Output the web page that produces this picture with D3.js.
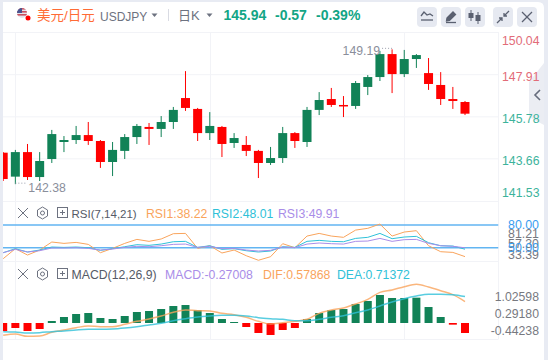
<!DOCTYPE html>
<html>
<head>
<meta charset="utf-8">
<script src="https://cdn.jsdelivr.net/npm/d3@7"></script>
<style>
  html, body { margin: 0; padding: 0; background: #fff; }
  svg { display: block; font-family: "Liberation Sans", "Noto Sans CJK SC", sans-serif; }
  .domain { display: none; }
</style>
</head>
<body>
<div id="chart"></div>
<script>
// daily candles
const opens  = [143.97,142.76,144.00,142.74,143.65,144.51,144.61,144.86,144.56,143.50,144.06,144.76,145.27,145.17,145.52,146.73,146.18,144.96,145.27,144.46,144.36,144.06,143.45,143.70,144.96,144.51,146.13,146.68,146.38,146.33,147.29,147.79,148.95,147.94,148.70,147.99,147.39,146.68,146.53];
const highs  = [144.00,144.11,144.41,144.00,145.12,144.81,145.32,145.52,144.61,144.51,144.91,145.42,145.47,145.82,146.28,148.09,146.23,146.02,145.32,144.96,144.81,144.11,144.26,145.27,145.01,146.28,147.03,147.24,146.83,147.59,147.89,149.11,149.19,149.16,148.95,148.75,148.04,147.29,146.58];
const lows   = [142.54,142.38,142.59,142.54,143.45,144.00,144.41,144.36,143.20,142.79,143.65,144.41,144.36,144.76,145.17,146.08,144.56,144.61,143.75,144.21,143.80,142.69,143.35,143.45,144.21,144.26,145.87,146.28,145.77,146.18,146.88,147.59,146.98,147.79,148.25,147.14,146.38,146.18,145.87];
const closes = [142.64,144.00,142.74,143.55,144.91,144.61,144.86,144.56,143.50,144.11,144.76,145.32,145.17,145.52,146.13,146.23,144.96,145.32,144.41,144.71,144.06,143.45,143.70,144.96,144.56,146.13,146.63,146.38,146.33,147.49,147.79,148.95,147.94,148.70,148.90,147.44,146.68,146.58,145.94];

const rsi1 = [35.5,48.7,40.3,46.9,57.5,55.7,57.0,54.4,43.4,49.1,55.7,61.0,58.4,61.5,68.5,68.9,49.1,52.6,43.0,46.9,39.4,33.39,38.1,55.3,50.0,65.4,68.9,65.4,63.7,73.3,75.6,81.21,65.4,70.7,72.5,52.6,44.7,43.8,38.22];
const rsi2 = [43.4,48.7,44.3,46.9,50.9,50.4,50.9,50.0,46.5,48.7,51.3,54.0,53.1,54.8,57.9,58.4,50.4,52.6,47.8,48.7,46.0,44.3,45.6,51.3,50.4,58.4,59.7,58.4,57.9,62.3,63.7,68.9,61.9,64.1,65.0,56.6,52.6,52.2,48.01];
const rsi3 = [43.4,47.8,44.3,46.0,49.6,49.6,50.0,49.1,46.9,48.2,50.4,51.8,51.3,52.6,54.4,54.8,50.4,51.8,48.7,49.1,46.9,45.6,46.5,50.9,50.0,54.8,56.2,55.3,54.8,58.4,58.8,62.3,58.4,60.6,61.0,55.7,52.6,51.8,49.91];

const macdHist = [-0.216,-0.135,-0.216,-0.162,0.054,0.162,0.243,0.270,0.135,0.108,0.189,0.297,0.324,0.378,0.459,0.486,0.351,0.270,0.108,0.027,-0.108,-0.270,-0.324,-0.189,-0.135,0.108,0.270,0.351,0.378,0.514,0.595,0.757,0.676,0.676,0.685,0.432,0.162,-0.045,-0.27008];
const dif = [-0.333,-0.297,-0.360,-0.351,-0.252,-0.189,-0.126,-0.081,-0.099,-0.099,-0.036,0.045,0.108,0.189,0.288,0.351,0.333,0.324,0.261,0.225,0.153,0.045,-0.027,0.009,0.045,0.099,0.261,0.351,0.405,0.514,0.640,0.829,0.892,0.982,1.045,0.973,0.874,0.766,0.57868];
const dea = [-0.234,-0.243,-0.270,-0.261,-0.234,-0.216,-0.189,-0.171,-0.171,-0.162,-0.135,-0.099,-0.054,-0.009,0.063,0.117,0.162,0.189,0.207,0.207,0.189,0.144,0.117,0.099,0.063,0.063,0.099,0.153,0.198,0.279,0.351,0.459,0.568,0.658,0.730,0.775,0.775,0.766,0.71372];

const priceTicks = [150.04, 147.91, 145.78, 143.66, 141.53];
const rsiLevels  = [80, 50];
const rsiTexts   = ['81.21', '57.30', '33.39'];
const macdTicks  = ['1.02598', '0.29180', '-0.44238'];
const dateIndex  = [1, 17, 33];
const dateLabels = ['2025-06', '2025-06', '2025-07'];

const W = 548, H = 360;
const GREEN = '#118257', RED = '#ff0000', GRID = '#f2f3f7';
const ORANGE = '#f9a45c', CYAN = '#2fc1d8', PURPLE = '#a98de8', LEVEL = '#62b5f2';
const LEFT = 3, AXIS_X = 498.5, BOTTOM = 339;

const svg = d3.select('#chart').append('svg').attr('width', W).attr('height', H);
svg.append('rect').attr('width', W).attr('height', H).attr('fill', '#e8ebf3');
svg.append('path').attr('fill', '#fff')
  .attr('d', `M${LEFT},2H538Q544,2 544,8V${H}H${LEFT}Z`);

svg.append('clipPath').attr('id', 'plot')
  .append('rect').attr('x', LEFT).attr('y', 32).attr('width', AXIS_X - LEFT).attr('height', BOTTOM - 32);

const x = d3.scaleLinear().domain([0, closes.length - 1]).range([3.2, 465]);
const yPrice = d3.scaleLinear().domain([141.53, 150.04]).range([201, 32.5]);
const yRsi = d3.scaleLinear().domain([50, 80]).range([247.7, 225]);
const yMacd = d3.scaleLinear().domain([0, 1]).range([323, 286]);
// the macd labels sit on their own spacing, not on the bar scale
const yMacdLabel = d3.scalePoint().domain(macdTicks).range([297, 331]);

// grid
const grid = svg.append('g').attr('stroke', GRID).attr('stroke-width', 1);
dateIndex.forEach(i => {
  grid.append('line').attr('x1', Math.round(x(i)) + .5).attr('x2', Math.round(x(i)) + .5).attr('y1', 32).attr('y2', BOTTOM);
});
priceTicks.slice(1, -1).forEach(v => {
  grid.append('line').attr('x1', LEFT).attr('x2', AXIS_X).attr('y1', yPrice(v)).attr('y2', yPrice(v));
});
[32.5, 201.5, 261.5, BOTTOM + .5].forEach(y => {
  grid.append('line').attr('x1', LEFT).attr('x2', AXIS_X).attr('y1', y).attr('y2', y);
});
grid.append('line').attr('x1', AXIS_X).attr('x2', AXIS_X).attr('y1', 32).attr('y2', BOTTOM);

const plot = svg.append('g').attr('clip-path', 'url(#plot)');

// candles
const isUp = i => closes[i] >= opens[i];
const candles = plot.append('g').selectAll('g').data(closes.map((c, i) => i)).join('g')
  .attr('fill', i => isUp(i) ? GREEN : RED)
  .attr('stroke', i => isUp(i) ? GREEN : RED);
candles.append('line')
  .attr('x1', i => x(i)).attr('x2', i => x(i))
  .attr('y1', i => yPrice(highs[i])).attr('y2', i => yPrice(lows[i]))
  .attr('stroke-width', 1);
candles.append('rect')
  .attr('x', i => x(i) - 4.5).attr('width', 9)
  .attr('y', i => yPrice(Math.max(opens[i], closes[i])))
  .attr('height', i => Math.max(1.5, Math.abs(yPrice(opens[i]) - yPrice(closes[i]))))
  .attr('stroke', 'none');

// RSI
rsiLevels.forEach(v => {
  plot.append('line').attr('x1', LEFT).attr('x2', AXIS_X).attr('y1', yRsi(v)).attr('y2', yRsi(v))
    .attr('stroke', LEVEL).attr('stroke-width', 1.4);
});
const rsiLine = d3.line().x((d, i) => x(i)).y(d => yRsi(d));
[[rsi1, ORANGE], [rsi2, CYAN], [rsi3, PURPLE]].forEach(([vals, col]) => {
  plot.append('path').attr('d', rsiLine(vals)).attr('fill', 'none').attr('stroke', col).attr('stroke-width', 1);
});

// MACD
plot.append('g').selectAll('rect').data(macdHist).join('rect')
  .attr('x', (d, i) => x(i) - 4).attr('width', 8)
  .attr('y', d => yMacd(Math.max(d, 0)))
  .attr('height', d => Math.max(1, Math.abs(yMacd(d) - yMacd(0))))
  .attr('fill', d => d >= 0 ? GREEN : RED);
const macdLine = d3.line().x((d, i) => x(i)).y(d => yMacd(d)).curve(d3.curveMonotoneX);
[[dif, ORANGE], [dea, CYAN]].forEach(([vals, col]) => {
  plot.append('path').attr('d', macdLine(vals)).attr('fill', 'none').attr('stroke', col)
    .attr('stroke-width', 1.5).attr('stroke-opacity', .8);
});

// collapse tab, sits under the price labels
svg.append('path').attr('fill', '#ebedf3').attr('d', 'M544,63L529,82V117L544,125Z');
svg.append('path').attr('fill', 'none').attr('stroke', '#666c7c').attr('stroke-width', 1.6)
  .attr('d', 'M540,90L535,95L540,100');

// price axis, the outer labels are pulled inside the panel
const priceDy = [11.5, 5.4, 5.2, 6, -4.3];
const priceAxis = d3.axisRight(yPrice).tickValues(priceTicks).tickSize(0).tickPadding(0).tickFormat(d3.format('.2f'));
svg.append('g').attr('transform', 'translate(502,0)').call(priceAxis)
  .selectAll('text')
  .attr('font-size', 12.25)
  .attr('font-family', 'inherit')
  .attr('fill', d => d > 146 ? '#e26c78' : '#3cb39b')
  .attr('dy', (d, i) => priceDy[i]);

// rsi axis labels
const rsiTextY = d3.scalePoint().domain(rsiTexts).range([238, 258.5]);
rsiTexts.forEach(t => {
  svg.append('text').attr('x', 508).attr('y', rsiTextY(t)).attr('font-size', 12.4).attr('fill', '#77797f').text(t);
});
rsiLevels.forEach(v => {
  svg.append('text').attr('x', 508).attr('y', yRsi(v) + 3.9).attr('font-size', 12.4).attr('fill', '#3a9df0')
    .text(v.toFixed(2));
});

// macd axis labels
macdTicks.forEach(t => {
  svg.append('text').attr('x', 539).attr('y', yMacdLabel(t) + 4).attr('text-anchor', 'end')
    .attr('font-size', 12.25).attr('fill', '#77797f').text(t);
});

// date axis, clipped at the left edge
svg.append('clipPath').attr('id', 'dates')
  .append('rect').attr('x', LEFT).attr('y', BOTTOM).attr('width', AXIS_X - LEFT).attr('height', H - BOTTOM);
const dateAxis = d3.axisBottom(x).tickValues(dateIndex).tickSize(0).tickPadding(4.5)
  .tickFormat((d, i) => dateLabels[i]);
svg.append('g').attr('transform', `translate(0,${BOTTOM})`).attr('clip-path', 'url(#dates)').call(dateAxis)
  .selectAll('text').attr('font-size', 11.8).attr('font-family', 'inherit').attr('fill', '#a9acb8');

// high / low notes
const note = (idx, val, side, dots, dy, label) => {
  const px = x(idx), py = yPrice(val);
  const end = side === 'left' ? px - dots : px + dots;
  svg.append('line').attr('x1', px).attr('x2', end).attr('y1', py - 1).attr('y2', py - 1)
    .attr('stroke', '#9a9eab').attr('stroke-dasharray', '1 2');
  svg.append('text').attr('x', side === 'left' ? end : end + 1).attr('y', py + dy)
    .attr('text-anchor', side === 'left' ? 'end' : 'start')
    .attr('font-size', 12.25).attr('fill', '#8a8e9b').text(label);
};
note(32, 149.19, 'left', 12, 5.7, '149.19');
note(1, 142.38, 'right', 12, 7.5, '142.38');

// header
const header = svg.append('g');
const label = (px, py, txt, size, col, weight) => header.append('text').attr('x', px).attr('y', py)
  .attr('font-size', size).attr('fill', col).attr('font-weight', weight || 'normal').text(txt);
svg.append('clipPath').attr('id', 'flag').append('circle').attr('cx', 22).attr('cy', 13).attr('r', 5);
const flag = header.append('g').attr('clip-path', 'url(#flag)');
flag.append('rect').attr('x', 17).attr('y', 8).attr('width', 10).attr('height', 10).attr('fill', '#e3e4ec');
[8, 11, 14].forEach(sy => {
  flag.append('rect').attr('x', 17).attr('y', sy).attr('width', 10).attr('height', 1.6).attr('fill', '#c9505f');
});
flag.append('rect').attr('x', 17).attr('y', 8).attr('width', 5).attr('height', 5).attr('fill', '#4a5590');
header.append('circle').attr('cx', 28).attr('cy', 18).attr('r', 2.5).attr('fill', '#f00');
label(37, 19.5, '美元/日元', 13.5, '#ff6b35');
label(100, 20.5, 'USDJPY', 12, '#6d7280');
label(178, 19.5, '日K', 13, '#6d7280');
header.append('line').attr('x1', 168.5).attr('x2', 168.5).attr('y1', 9).attr('y2', 21).attr('stroke', '#d9dbe3');
[[154.5, 15], [209.5, 15]].forEach(([cx, cy]) => {
  header.append('path').attr('fill', '#6d7280').attr('d', `M${cx - 3},${cy - 1.5}H${cx + 3}L${cx},${cy + 2}Z`);
});
label(223.5, 19.5, '145.94', 14, '#12a585', 'bold');
label(275, 19.5, '-0.57', 14, '#12a585', 'bold');
label(316, 19.5, '-0.39%', 14, '#12a585', 'bold');

// toolbar buttons
const ICON = '#5a6070';
const buttons = [
  ['M4,9L7,5L10,8L13,7L16,9', 'M4,13H16'],
  ['M6,11L12,5L14.5,7.5L8.5,13.5L5.5,14Z', 'M5,15.5H15'],
  null,
  ['M4,16L9,11M6,11H9V14', 'M16,4L11,9M14,9H11V6'],
  ['M5,5L15,15', 'M15,5L5,15']
];
[417, 441, 465, 493, 517].forEach((bx, i) => {
  const b = header.append('g').attr('transform', `translate(${bx},7)`);
  b.append('rect').attr('width', 20).attr('height', 20).attr('rx', 4).attr('fill', '#e6e9f1');
  if (buttons[i]) {
    buttons[i].forEach(d => b.append('path').attr('d', d).attr('fill', i === 1 ? ICON : 'none').attr('stroke', ICON).attr('stroke-width', 1.3));
  } else {
    [[6, 3, 11], [13, 5, 14]].forEach(([cx, a, z]) => {
      b.append('line').attr('x1', cx).attr('x2', cx).attr('y1', a).attr('y2', z + 3).attr('stroke', ICON);
      b.append('rect').attr('x', cx - 2.5).attr('y', a + 3).attr('width', 5).attr('height', z - a - 3).attr('fill', ICON);
    });
  }
});

// indicator legends
const legendRow = (py, name, nameSize, items) => {
  const g = svg.append('g');
  g.append('path').attr('d', `M18,${py - 5}L28,${py + 5}M28,${py - 5}L18,${py + 5}`).attr('stroke', '#6d7280').attr('fill', 'none');
  g.append('path').attr('d', `M42.5,${py - 6}L47.5,${py - 3}V${py + 3}L42.5,${py + 6}L37.5,${py + 3}V${py - 3}Z`)
    .attr('stroke', '#6d7280').attr('fill', 'none');
  g.append('circle').attr('cx', 42.5).attr('cy', py).attr('r', 2).attr('stroke', '#6d7280').attr('fill', 'none');
  g.append('rect').attr('x', 57.5).attr('y', py - 5.5).attr('width', 10).attr('height', 10).attr('stroke', '#6d7280').attr('fill', 'none');
  g.append('path').attr('d', `M60,${py - .5}H65M62.5,${py - 3}V${py + 2}`).attr('stroke', '#6d7280');
  g.append('text').attr('x', 71.5).attr('y', py + 5).attr('font-size', nameSize).attr('fill', '#555a66').text(name);
  items.forEach(([px, txt, col]) => {
    g.append('text').attr('x', px).attr('y', py + 5).attr('font-size', 12.25).attr('fill', col).text(txt);
  });
};
legendRow(213, 'RSI(7,14,21)', 11.5, [[146, 'RSI1:38.22', ORANGE], [212, 'RSI2:48.01', CYAN], [278, 'RSI3:49.91', PURPLE]]);
legendRow(274, 'MACD(12,26,9)', 12.25, [[165, 'MACD:-0.27008', PURPLE], [263, 'DIF:0.57868', ORANGE], [337, 'DEA:0.71372', CYAN]]);
</script>
</body>
</html>
